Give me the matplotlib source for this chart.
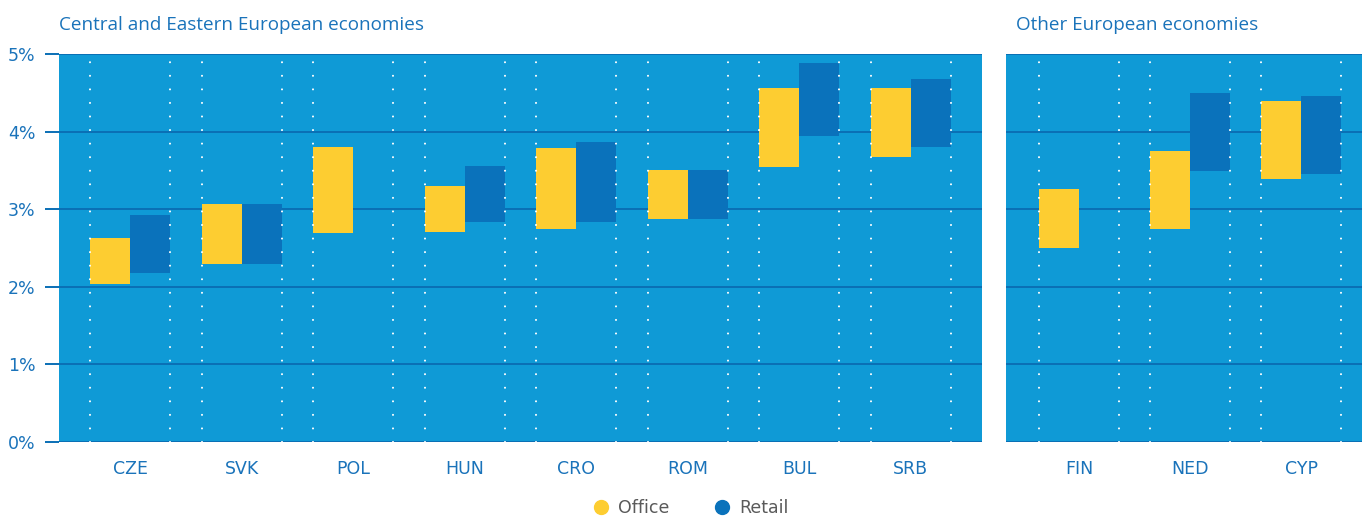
import matplotlib
matplotlib.use("Agg")
import matplotlib.pyplot as plt
from matplotlib.lines import Line2D
import numpy as np

# datos: rango (min, max) de rendimientos por pais
cee = ["CZE", "SVK", "POL", "HUN", "CRO", "ROM", "BUL", "SRB"]
cee_office_lo = [2.04, 2.29, 2.69, 2.71, 2.74, 2.87, 3.54, 3.67]
cee_office_hi = [2.63, 3.07, 3.80, 3.30, 3.79, 3.51, 4.56, 4.56]
cee_retail_lo = [2.18, 2.29, np.nan, 2.84, 2.84, 2.87, 3.94, 3.80]
cee_retail_hi = [2.93, 3.07, np.nan, 3.56, 3.87, 3.51, 4.88, 4.68]

other = ["FIN", "NED", "CYP"]
other_office_lo = [2.50, 2.75, 3.39]
other_office_hi = [3.26, 3.75, 4.39]
other_retail_lo = [np.nan, 3.49, 3.45]
other_retail_hi = [np.nan, 4.50, 4.46]

yticks = [0, 1, 2, 3, 4, 5]

BG = "#0f9ad6"
YELLOW = "#fdcd31"
DARK = "#0a72bb"
GRID = "#0a6fb5"
TXT = "#1a73ba"
LBL = ["Liberation Sans Narrow", "DejaVu Sans"]

W, H = 1362, 522
fig = plt.figure(figsize=(W / 100, H / 100), dpi=100)

bottom = (H - 442) / H
height = 388 / H
ax1 = fig.add_axes([59 / W, bottom, 923 / W, height])
ax2 = fig.add_axes([1006 / W, bottom, 356 / W, height])

bw = 0.36


def draw_panel(ax, cats, o_lo, o_hi, r_lo, r_hi, xlim):
    """Dibuja un panel con barras flotantes"""
    n = len(cats)
    pos = np.arange(n)
    o_lo, o_hi = np.array(o_lo), np.array(o_hi)
    r_lo, r_hi = np.array(r_lo), np.array(r_hi)
    ax.set_facecolor(BG)
    ax.bar(pos - bw / 2, o_hi - o_lo, bottom=o_lo, width=bw, color=YELLOW, zorder=3)
    ax.bar(pos + bw / 2, r_hi - r_lo, bottom=r_lo, width=bw, color=DARK, zorder=3)
    # lineas punteadas en los bordes de cada grupo
    for p in pos:
        for xe in (p - bw, p + bw):
            ax.axvline(xe, color="white", linestyle=(0, (0.01, 6.5)), linewidth=1.5,
                       zorder=4, dash_capstyle="round")
    ax.set_xlim(*xlim)
    ax.set_ylim(0, 5)
    ax.set_yticks(yticks)
    ax.yaxis.grid(True, color=GRID, linewidth=1.4, zorder=1)
    ax.set_axisbelow(True)
    ax.set_xticks(pos)
    ax.set_xticklabels(cats, fontsize=12.5, color=TXT, family=LBL)
    ax.tick_params(axis="x", length=0, pad=13)
    for s in ax.spines.values():
        s.set_visible(False)


draw_panel(ax1, cee, cee_office_lo, cee_office_hi, cee_retail_lo, cee_retail_hi, (-0.64, 7.64))
draw_panel(ax2, other, other_office_lo, other_office_hi, other_retail_lo, other_retail_hi, (-0.66, 2.55))

ax1.set_yticklabels([f"{v}%" for v in yticks], fontsize=12.5, color=TXT, family=LBL)
ax1.tick_params(axis="y", length=10, width=1.4, color=GRID, pad=7)
ax2.tick_params(axis="y", length=0, labelleft=False)

fig.text(59 / W, 1 - 25 / H, "Central and Eastern European economies", fontsize=13.6,
         color=TXT, family=["Open Sans", "DejaVu Sans"], va="center", ha="left")
fig.text(1016 / W, 1 - 25 / H, "Other European economies", fontsize=13.6,
         color=TXT, family=["Open Sans", "DejaVu Sans"], va="center", ha="left")

handles = [Line2D([], [], marker="o", linestyle="none", markersize=10, color=YELLOW),
           Line2D([], [], marker="o", linestyle="none", markersize=10, color=DARK)]
fig.legend(handles, ["Office", "Retail"], loc="center", bbox_to_anchor=(686 / W, 1 - 508 / H),
           ncol=2, frameon=False, handletextpad=0.0, columnspacing=2.0,
           prop={"family": LBL, "size": 12.5}, labelcolor="#5a5a5a")

fig.savefig("out.png", dpi=100)
